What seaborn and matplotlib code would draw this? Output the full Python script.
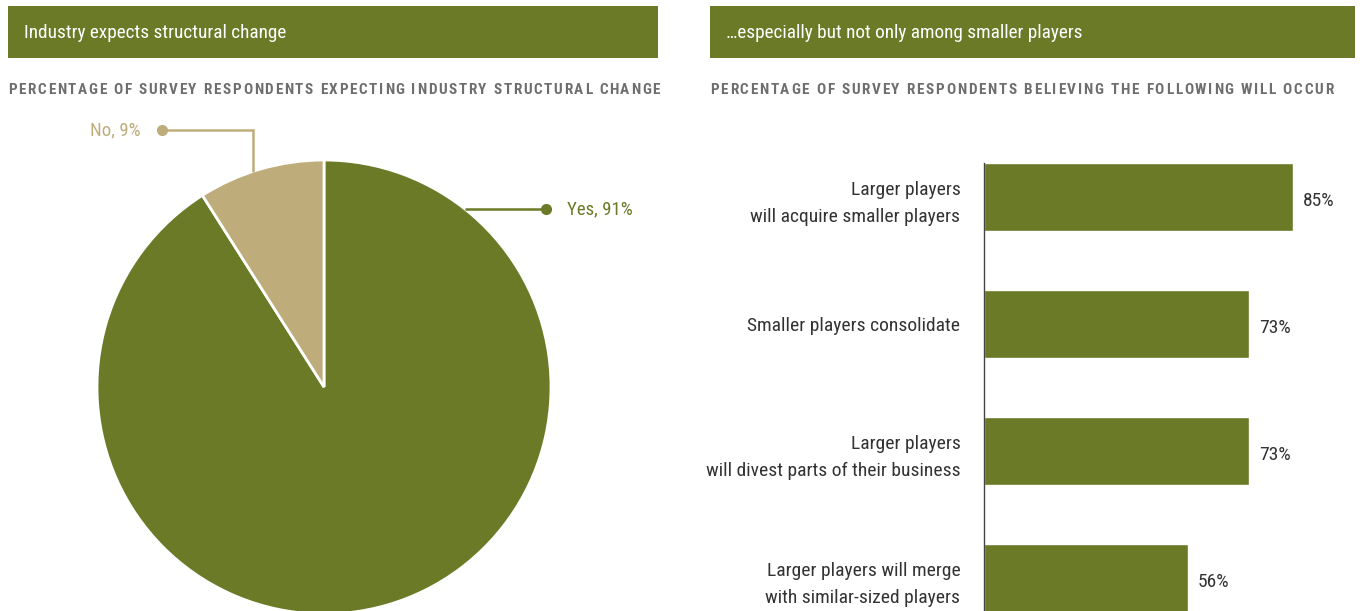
import matplotlib
matplotlib.use("Agg")
import matplotlib.pyplot as plt
from matplotlib import font_manager
from matplotlib.patches import Rectangle
import numpy as np
import pandas as pd
import seaborn as sns

# ---- data ----
pie_labels = ["Yes", "No"]
pie_values = [91, 9]

bar_categories = [
    "Larger players\nwill acquire smaller players",
    "Smaller players consolidate",
    "Larger players\nwill divest parts of their business",
    "Larger players will merge\nwith similar-sized players",
]
bar_values = [85, 73, 73, 56]

left_header = "Industry expects structural change"
right_header = "\u2026especially but not only among smaller players"
left_subtitle = "PERCENTAGE OF SURVEY RESPONDENTS EXPECTING INDUSTRY STRUCTURAL CHANGE"
right_subtitle = "PERCENTAGE OF SURVEY RESPONDENTS BELIEVING THE FOLLOWING WILL OCCUR"

# ---- style ----
OLIVE = "#6b7a27"
TAN = "#bead7b"
GREY = "#6e6e6e"
DARK = "#333333"

sns.set_theme(style="white")
available = {f.name for f in font_manager.fontManager.ttflist}
FONT = "DejaVu Sans"
for cand in ["Liberation Sans Narrow", "Roboto Condensed", "Open Sans Condensed", "Liberation Sans"]:
    if cand in available:
        FONT = cand
        break
plt.rcParams["font.family"] = [FONT, "DejaVu Sans"]

W, H = 1360, 611
fig = plt.figure(figsize=(W / 100, H / 100), dpi=100)
fig.patch.set_facecolor("white")


def px_rect(x0, y0, x1, y1):
    """Figure-fraction rectangle from pixel corners (origin top-left)."""
    return [x0 / W, 1 - y1 / H, (x1 - x0) / W, (y1 - y0) / H]


def fx(x):
    return x / W


def fy(y):
    return 1 - y / H


# ---- header bands ----
for (x0, x1, text) in [(8, 658, left_header), (710, 1355, right_header)]:
    fig.patches.append(Rectangle((fx(x0), fy(58)), (x1 - x0) / W, 52 / H,
                                 transform=fig.transFigure, facecolor=OLIVE,
                                 edgecolor="none", zorder=0))
    fig.text(fx(x0 + 16), fy(33), text, color="white", fontsize=13.9,
             va="center", ha="left")


# ---- letter-spaced subtitles ----
renderer = fig.canvas.get_renderer()


def text_width(s, **kw):
    t = fig.text(0, 0, s, **kw)
    w = t.get_window_extent(renderer).width
    t.remove()
    return w


def spaced_text(x0, x1, y, s, **kw):
    x_w = text_width("X", **kw)
    natural = text_width(s, **kw)
    extra = (x1 - x0 - natural) / (len(s) - 1)
    for i, ch in enumerate(s):
        if ch == " ":
            continue
        start = (text_width(s[:i] + "X", **kw) - x_w) if i else 0.0
        fig.text(fx(x0 + start + extra * i), fy(y), ch, va="center", ha="left", **kw)


sub_kw = dict(fontsize=11, fontweight="bold", color=GREY)
spaced_text(8, 660, 89.5, left_subtitle, **sub_kw)
spaced_text(710, 1333, 89.5, right_subtitle, **sub_kw)

# ---- pie ----
R_PX = 227
CX, CY = 324, 387
HALF = 240
ax_pie = fig.add_axes(px_rect(CX - HALF, CY - HALF, CX + HALF, CY + HALF))
ax_pie.pie(pie_values, colors=[OLIVE, TAN], startangle=90, counterclock=False,
           wedgeprops=dict(edgecolor="white", linewidth=2))
lim = HALF / R_PX
ax_pie.set_xlim(-lim, lim)
ax_pie.set_ylim(-lim, lim)
ax_pie.set_aspect("equal")
ax_pie.axis("off")


def d(px, axis):
    return (px - CX) / R_PX if axis == "x" else (CY - px) / R_PX


# Yes leader: horizontal from the rim out to a dot
y_yes = d(209, "y")
x_rim = np.sqrt(1 - y_yes ** 2)
ax_pie.plot([x_rim, d(546, "x")], [y_yes, y_yes], color=OLIVE, lw=1.8,
            clip_on=False, solid_capstyle="butt")
ax_pie.plot([d(546, "x")], [y_yes], "o", color=OLIVE, ms=7, clip_on=False)
ax_pie.text(d(567, "x"), y_yes, f"{pie_labels[0]}, {pie_values[0]}%", color=OLIVE,
            fontsize=13.6, va="center", ha="left", clip_on=False)

# No leader: up from the rim, then left to a dot
x_no = d(253, "x")
y_rim = np.sqrt(1 - x_no ** 2)
y_top = d(130, "y")
ax_pie.plot([x_no, x_no, d(162, "x")], [y_rim, y_top, y_top], color=TAN, lw=1.8,
            clip_on=False, solid_joinstyle="miter")
ax_pie.plot([d(162, "x")], [y_top], "o", color=TAN, ms=7, clip_on=False)
ax_pie.text(d(141, "x"), y_top, f"{pie_labels[1]}, {pie_values[1]}%", color=TAN,
            fontsize=13.6, va="center", ha="right", clip_on=False)

# ---- horizontal bars ----
ax_bar = fig.add_axes(px_rect(984, 163, 1355, 611))
df = pd.DataFrame({"category": bar_categories, "value": bar_values})
sns.barplot(data=df, y="category", x="value", orient="h", color=OLIVE,
            width=0.535, saturation=1, ax=ax_bar)
PX_PER_UNIT = 3.635
ax_bar.set_xlim(0, 371 / PX_PER_UNIT)
ax_bar.set_ylim(-0.268 + 448 / 127, -0.268)
ax_bar.set_xlabel("")
ax_bar.set_ylabel("")
ax_bar.set_xticks([])
for side in ["top", "right", "bottom"]:
    ax_bar.spines[side].set_visible(False)
ax_bar.spines["left"].set_color("#444444")
ax_bar.spines["left"].set_linewidth(1.0)
ax_bar.tick_params(axis="y", length=0, pad=17, labelsize=14, labelcolor=DARK)
for lbl in ax_bar.get_yticklabels():
    lbl.set_linespacing(1.62)
for i, v in enumerate(bar_values):
    ax_bar.annotate(f"{v}%", xy=(v, i), xytext=(7.2, -2.5), textcoords="offset points",
                    va="center", ha="left", fontsize=14, color=DARK,
                    annotation_clip=False)

fig.savefig("out.png", dpi=100, facecolor="white")
